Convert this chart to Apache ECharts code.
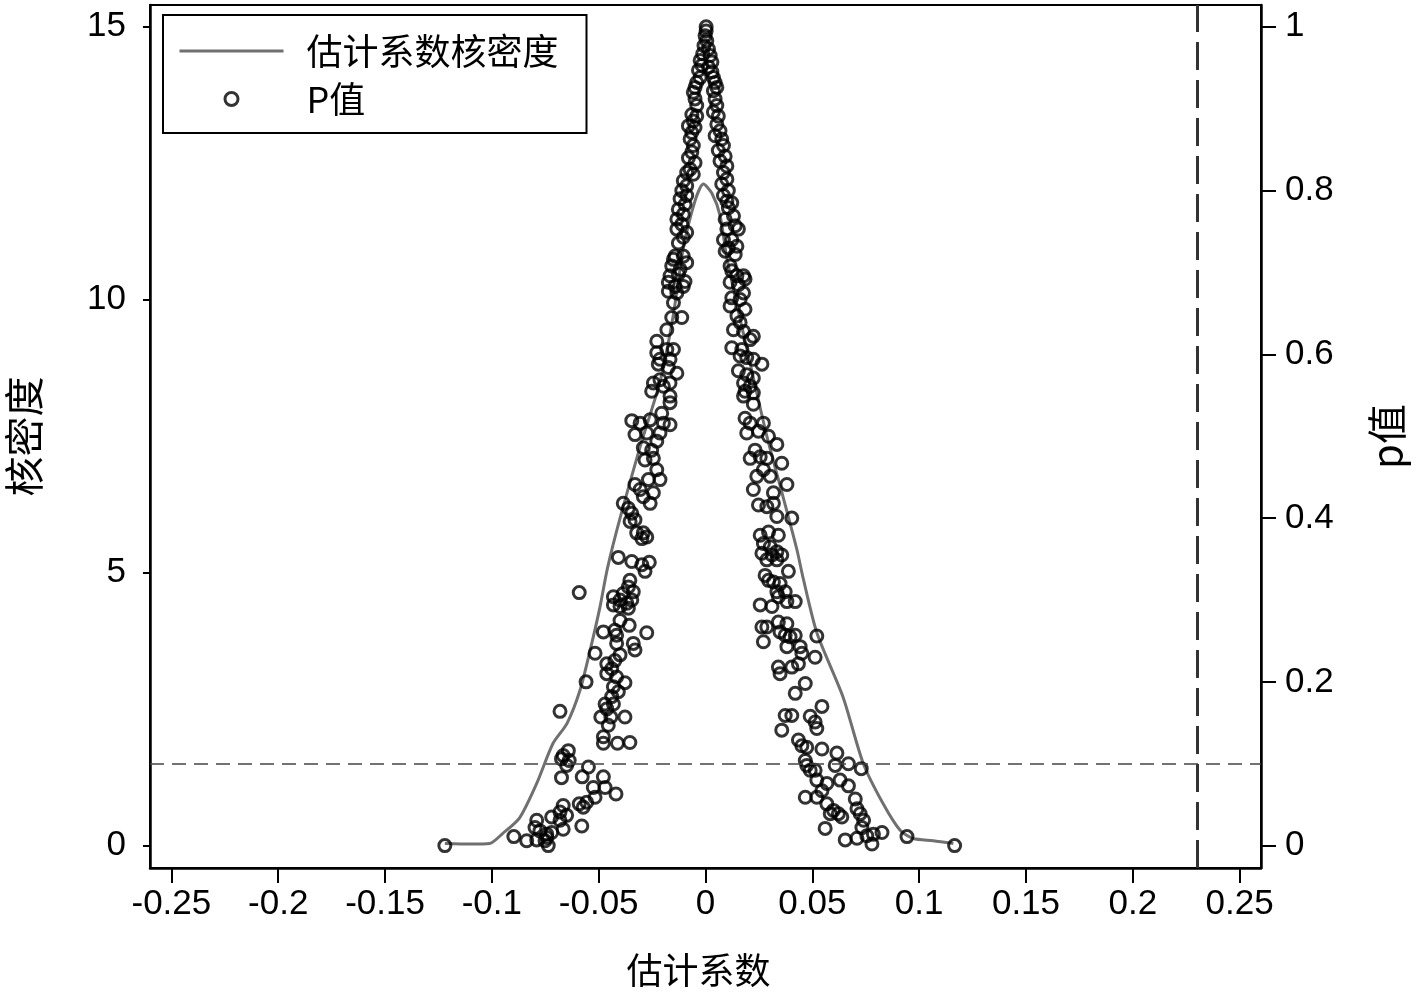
<!DOCTYPE html>
<html><head><meta charset="utf-8">
<script src="https://cdn.jsdelivr.net/npm/echarts@6/dist/echarts.min.js"></script>
<style>html,body{margin:0;padding:0;background:#fff}#c{width:1417px;height:995px}</style>
</head><body><div id="c"></div><script>
// ---- data ----
const xTicks = [-0.25,-0.2,-0.15,-0.1,-0.05,0,0.05,0.1,0.15,0.2,0.25];
const leftTicks = [0,5,10,15];
const rightTicks = [0,0.2,0.4,0.6,0.8,1];
const kdCoef = [-0.122,-0.110,-0.101,-0.095,-0.087,-0.079,-0.0714,-0.0648,-0.0587,-0.054,-0.0494,-0.0459,-0.040,-0.0306,-0.0213,-0.0152,-0.0105,-0.005,-0.001,0.003,0.0069,0.0101,0.0223,0.0288,0.0363,0.0428,0.0457,0.0522,0.0644,0.0738,0.0831,0.0911,0.0972,0.1066,0.116];
const kdDensity = [0.04,0.03,0.04,0.22,0.51,1.14,1.87,2.24,2.85,3.58,4.37,5.08,6.0,7.31,8.5,9.69,10.92,11.8,12.12,11.95,11.53,10.74,8.59,7.49,6.39,5.42,4.9,3.89,2.72,1.51,0.77,0.28,0.13,0.09,0.04];
const pPoints = [
[-0.122,0.0],
[-0.0408,0.352],[-0.0345,0.347],[-0.0298,0.343],[-0.0263,0.346],[-0.0283,0.335],
[-0.0591,0.309],[-0.0354,0.324],[-0.0361,0.316],[-0.0385,0.308],[-0.0338,0.310],
[-0.0431,0.304],[-0.0400,0.300],[-0.0368,0.296],[-0.0345,0.300],[-0.0431,0.294],
[-0.0400,0.292],[-0.0361,0.290],[-0.0400,0.275],[-0.0357,0.269],[-0.0478,0.261],
[-0.0424,0.263],[-0.0275,0.260],[-0.0416,0.257],[-0.0416,0.247],[-0.0338,0.247],
[-0.0330,0.239],[-0.0517,0.235],[-0.0400,0.233],[-0.0424,0.226],[-0.0462,0.222],
[-0.0439,0.216],[-0.0462,0.210],[-0.0416,0.206],[-0.0377,0.199],[-0.0559,0.200],
[-0.0431,0.194],[-0.0408,0.188],[-0.0439,0.182],[-0.0431,0.173],[-0.0470,0.173],
[-0.0462,0.167],[-0.0490,0.157],[-0.0443,0.157],[-0.0377,0.157],[-0.0455,0.147],
[-0.0681,0.164],[-0.0478,0.133],[-0.0478,0.125],[-0.0412,0.125],[-0.0354,0.126],
[-0.0642,0.116],[-0.0666,0.110],[-0.0674,0.106],[-0.0638,0.104],[-0.0650,0.098],
[-0.0548,0.096],[-0.0674,0.083],[-0.0577,0.084],[-0.0478,0.084],[-0.0525,0.071],
[-0.0470,0.071],[-0.0419,0.063],[-0.0517,0.059],[-0.0556,0.053],[-0.0591,0.051],
[-0.0572,0.047],[-0.0666,0.049],[-0.0681,0.041],[-0.0650,0.037],[-0.0720,0.035],
[-0.0681,0.031],[-0.0579,0.024],[-0.0790,0.031],[-0.0798,0.022],[-0.0775,0.018],
[-0.0666,0.020],[-0.0743,0.014],[-0.0720,0.016],[-0.0743,0.010],[-0.0751,0.006],
[-0.0736,0.000],[-0.0837,0.006],[-0.0790,0.007],[-0.0897,0.011],
[0.0264,0.357],[0.0311,0.355],[0.0357,0.355],[0.0287,0.349],[0.0334,0.349],
[0.0388,0.335],[0.0279,0.330],[0.0295,0.324],[0.0318,0.322],[0.0349,0.320],
[0.0334,0.310],[0.0373,0.310],[0.0341,0.304],[0.0381,0.298],[0.0420,0.298],
[0.0256,0.294],[0.0311,0.292],[0.0264,0.267],[0.0287,0.267],[0.0341,0.273],
[0.0381,0.271],[0.0349,0.261],[0.0373,0.257],[0.0396,0.255],[0.0420,0.257],
[0.0271,0.249],[0.0381,0.243],[0.0443,0.243],[0.0451,0.235],[0.0513,0.230],
[0.0521,0.256],[0.0341,0.218],[0.0349,0.210],[0.0404,0.218],[0.0435,0.222],
[0.0420,0.186],[0.0467,0.198],[0.0373,0.159],[0.0404,0.159],[0.0357,0.141],
[0.0490,0.158],[0.0513,0.151],[0.0521,0.143],[0.0545,0.170],[0.0435,0.129],
[0.0451,0.122],[0.0474,0.120],[0.0545,0.118],[0.0615,0.113],[0.0467,0.104],
[0.0474,0.098],[0.0490,0.092],[0.0513,0.092],[0.0607,0.098],[0.0669,0.100],
[0.0729,0.094],[0.0521,0.080],[0.0568,0.076],[0.0630,0.080],[0.0669,0.073],
[0.0545,0.067],[0.0521,0.059],[0.0467,0.059],[0.0568,0.051],[0.0599,0.043],
[0.0622,0.039],[0.0584,0.039],[0.0638,0.035],[0.0701,0.057],[0.0709,0.045],
[0.0724,0.039],[0.0740,0.031],[0.0732,0.022],[0.0560,0.021],[0.0654,0.007],
[0.0709,0.009],[0.0755,0.012],[0.0786,0.014],[0.0826,0.016],[0.0779,0.002],
[0.0943,0.011],[0.1166,0.000],
[-0.0150,0.716],[-0.0104,0.720],[-0.0088,0.712],[-0.0166,0.696],[-0.0127,0.698],
[-0.0096,0.689],[-0.0174,0.688],[-0.0142,0.683],[-0.0104,0.683],[-0.0174,0.677],
[-0.0134,0.675],[-0.0150,0.663],[-0.0111,0.645],[-0.0158,0.645],[-0.0181,0.630],
[-0.0228,0.616],[-0.0228,0.602],[-0.0181,0.606],[-0.0150,0.606],[-0.0213,0.594],
[-0.0166,0.594],[-0.0221,0.588],[-0.0174,0.584],[-0.0134,0.577],[-0.0244,0.565],
[-0.0213,0.569],[-0.0252,0.555],[-0.0197,0.561],[-0.0166,0.565],[-0.0166,0.549],
[-0.0166,0.541],[-0.0345,0.519],[-0.0306,0.516],[-0.0259,0.520],[-0.0205,0.528],
[-0.0197,0.516],[-0.0166,0.514],[-0.0330,0.502],[-0.0275,0.504],[-0.0213,0.504],
[-0.0228,0.494],[-0.0291,0.486],[-0.0252,0.483],[-0.0283,0.471],[-0.0244,0.473],
[-0.0228,0.459],[-0.0267,0.447],[-0.0213,0.447],[-0.0330,0.441],[-0.0306,0.435],
[-0.0244,0.431],[-0.0291,0.426],[-0.0259,0.418],[-0.0385,0.418],[-0.0361,0.412],
[-0.0345,0.406],[-0.0330,0.398],[-0.0353,0.396],[-0.0322,0.382],[-0.0291,0.382],
[-0.0275,0.377],[-0.0298,0.375],
[0.0092,0.726],[0.0139,0.722],[0.0123,0.702],[0.0147,0.696],[0.0185,0.692],
[0.0115,0.688],[0.0154,0.685],[0.0178,0.675],[0.0123,0.669],[0.0162,0.667],
[0.0115,0.659],[0.0185,0.655],[0.0147,0.647],[0.0162,0.639],[0.0131,0.630],
[0.0178,0.628],[0.0224,0.622],[0.0209,0.618],[0.0123,0.608],[0.0170,0.606],
[0.0162,0.598],[0.0193,0.596],[0.0224,0.594],[0.0264,0.588],[0.0154,0.580],
[0.0193,0.575],[0.0224,0.571],[0.0178,0.565],[0.0209,0.561],[0.0185,0.555],
[0.0224,0.553],[0.0178,0.549],[0.0224,0.539],[0.0185,0.522],[0.0209,0.516],
[0.0271,0.516],[0.0193,0.504],[0.0248,0.506],[0.0295,0.500],[0.0334,0.490],
[0.0232,0.483],[0.0209,0.473],[0.0256,0.475],[0.0287,0.473],[0.0271,0.459],
[0.0357,0.467],[0.0240,0.451],[0.0303,0.451],[0.0224,0.435],[0.0381,0.441],
[0.0318,0.431],[0.0248,0.416],[0.0287,0.414],[0.0318,0.418],[0.0334,0.402],
[0.0404,0.400],[0.0256,0.379],[0.0295,0.383],[0.0341,0.379],[0.0271,0.369],
[0.0303,0.365],[0.0334,0.359],
[0.0003,1.000],[0.0003,0.995],[-0.0002,0.989],[0.0006,0.983],[-0.0007,0.977],
[0.0014,0.973],[-0.0013,0.967],[0.0022,0.965],[-0.0025,0.959],[0.0030,0.957],
[-0.0017,0.953],[0.0014,0.951],[-0.0033,0.947],[0.0030,0.945],[-0.0025,0.938],
[0.0037,0.938],[-0.0041,0.932],[0.0045,0.932],[-0.0049,0.926],[0.0053,0.926],
[-0.0057,0.920],[0.0037,0.922],
[-0.0049,0.912],[-0.0041,0.904],[-0.0064,0.893],[-0.0041,0.891],[-0.0057,0.885],
[-0.0080,0.879],[-0.0049,0.877],[-0.0064,0.871],[-0.0072,0.863],[-0.0057,0.855],
[-0.0064,0.847],[-0.0080,0.840],[-0.0049,0.834],[-0.0072,0.826],[-0.0088,0.822],
[-0.0057,0.820],[-0.0104,0.812],[-0.0088,0.806],[-0.0111,0.800],[-0.0088,0.794],
[-0.0119,0.790],[-0.0096,0.783],[-0.0127,0.777],[-0.0104,0.771],[-0.0134,0.765],
[-0.0111,0.759],[-0.0134,0.753],[-0.0088,0.749],[-0.0104,0.743],[-0.0127,0.736],
[-0.0142,0.720],[-0.0158,0.708],[-0.0119,0.704],
[0.0045,0.912],[0.0053,0.904],[0.0037,0.896],[0.0060,0.891],[0.0053,0.881],
[0.0068,0.873],[0.0045,0.867],[0.0076,0.863],[0.0084,0.855],[0.0060,0.849],
[0.0092,0.842],[0.0068,0.836],[0.0100,0.830],[0.0084,0.822],[0.0100,0.814],
[0.0076,0.808],[0.0107,0.800],[0.0084,0.794],[0.0100,0.787],[0.0123,0.785],
[0.0107,0.779],[0.0131,0.769],[0.0092,0.765],[0.0139,0.757],[0.0100,0.753],
[0.0154,0.753],[0.0084,0.740],[0.0123,0.740],[0.0147,0.732],[0.0107,0.730],
[0.0115,0.708],[0.0178,0.696]
];
const pThreshold = 0.1;
const verticalRef = 0.2324;
const xRange = [-0.26, 0.26];
const densityRange = [-0.41, 15.4];

// ---- chart ----
const numFont = "'Liberation Sans', Arial, sans-serif";
const cjkFont = "'Noto Sans CJK SC', sans-serif";
const fmt = v => String(Math.round(v * 100) / 100);
const chart = echarts.init(document.getElementById('c'), null, {renderer: 'canvas'});
chart.setOption({
  animation: false,
  backgroundColor: '#fff',
  grid: {left: 150, right: 156, top: 5, bottom: 127, outerBoundsMode: 'none', containLabel: false,
         show: true, borderColor: '#000', borderWidth: 2, backgroundColor: 'transparent'},
  legend: {
    left: 163, top: 15, orient: 'vertical',
    padding: [18, 28, 16, 15], itemGap: 12,
    itemWidth: 104, itemHeight: 13,
    borderColor: '#000', borderWidth: 2, backgroundColor: '#fff',
    textStyle: {fontSize: 36, fontFamily: cjkFont, color: '#000', padding: [0, 0, 0, 18]},
    data: [
      {name: '估计系数核密度', itemStyle: {opacity: 0}, lineStyle: {width: 3, color: '#707070'}},
      {name: 'P值', itemStyle: {color: 'rgba(0,0,0,0)', borderColor: '#000', borderWidth: 3}}
    ]
  },
  xAxis: {
    type: 'value', min: xRange[0], max: xRange[1],
    name: '估计系数', nameLocation: 'middle', nameGap: 84,
    nameTextStyle: {fontSize: 36, fontFamily: cjkFont, color: '#000', padding: [0, 14, 0, 0]},
    axisLine: {show: true, onZero: false, lineStyle: {color: '#000', width: 2.5}},
    axisTick: {show: true, length: 15, customValues: xTicks, lineStyle: {color: '#000', width: 2}},
    axisLabel: {customValues: xTicks, formatter: fmt, fontSize: 35, fontFamily: numFont, color: '#000', margin: 19},
    splitLine: {show: false}
  },
  yAxis: [{
    type: 'value', min: densityRange[0], max: densityRange[1], position: 'left',
    name: '核密度', nameLocation: 'middle', nameGap: 106, nameRotate: 90,
    nameTextStyle: {fontSize: 40, fontFamily: cjkFont, color: '#000'},
    axisLine: {show: true, onZero: false, lineStyle: {color: '#000', width: 2.5}},
    axisTick: {show: true, length: 7, customValues: leftTicks, lineStyle: {color: '#000', width: 2}},
    axisLabel: {customValues: leftTicks, formatter: fmt, fontSize: 35, fontFamily: numFont, color: '#000', margin: 24},
    splitLine: {show: false}
  }, {
    type: 'value', min: densityRange[0] / 15, max: densityRange[1] / 15, position: 'right',
    name: 'p值', nameLocation: 'middle', nameGap: 106, nameRotate: 90,
    nameTextStyle: {fontSize: 40, fontFamily: cjkFont, color: '#000'},
    axisLine: {show: true, onZero: false, lineStyle: {color: '#000', width: 2.5}},
    axisTick: {show: true, length: 15, customValues: rightTicks, lineStyle: {color: '#000', width: 2}},
    axisLabel: {customValues: rightTicks, formatter: fmt, fontSize: 35, fontFamily: numFont, color: '#000', margin: 24},
    splitLine: {show: false}
  }],
  series: [{
    name: '估计系数核密度', type: 'line', yAxisIndex: 0, z: 2,
    data: kdCoef.map((c, i) => [c, kdDensity[i]]),
    symbol: 'none', smooth: 0.25,
    lineStyle: {color: '#707070', width: 3},
    itemStyle: {color: '#707070'},
    markLine: {
      silent: true, symbol: 'none', label: {show: false},
      lineStyle: {color: '#333', width: 3, type: [28, 10]},
      data: [{xAxis: verticalRef}]
    }
  }, {
    name: 'P值', type: 'scatter', yAxisIndex: 1, z: 3,
    data: pPoints,
    symbol: 'circle', symbolSize: 12,
    itemStyle: {color: 'rgba(0,0,0,0)', borderColor: '#000', borderWidth: 3},
    markLine: {
      silent: true, symbol: 'none', label: {show: false},
      lineStyle: {color: '#444', width: 1.5, type: [14, 8]},
      data: [{yAxis: pThreshold}]
    }
  }]
});
</script></body></html>
